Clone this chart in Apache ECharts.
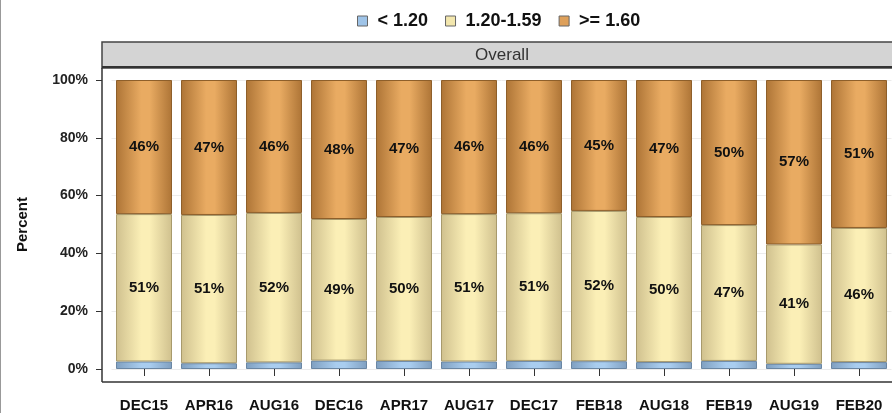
<!DOCTYPE html>
<html><head><meta charset="utf-8">
<script src="https://cdn.jsdelivr.net/npm/echarts@6/dist/echarts.min.js"></script>
<style>html,body{margin:0;padding:0;background:#fff;}#c{width:892px;height:413px;}</style>
</head><body><div id="c"></div>
<script>
const categories = ['DEC15','APR16','AUG16','DEC16','APR17','AUG17','DEC17','FEB18','AUG18','FEB19','AUG19','FEB20'];
const seriesNames = ['< 1.20','1.20-1.59','>= 1.60'];
const low  = [2.6, 2.0, 2.3, 2.9, 2.8, 2.6, 2.8, 2.7, 2.4, 2.8, 1.8, 2.4];
const mid  = [51.0, 51.3, 51.7, 49.0, 49.8, 51.0, 51.1, 52.0, 50.2, 47.0, 41.3, 46.4];
const high = [46.4, 46.7, 46.0, 48.1, 47.4, 46.4, 46.1, 45.3, 47.4, 50.2, 56.9, 51.2];
const yTicks = [0, 20, 40, 60, 80, 100];

function grad(edge, center) {
  return {type:'linear', x:0, y:0, x2:1, y2:0, colorStops:[
    {offset:0, color:edge},{offset:0.45, color:center},{offset:0.6, color:center},{offset:1, color:edge}]};
}
const fills = [grad('#7f9fc0','#a9cdef'), grad('#cfc08e','#fbefb6'), grad('#ad7436','#e9ab62')];
const borders = ['#6a86a3','#a89a6c','#8e5f2a'];
const legendColors = ['#9fc4e8','#f3e7ae','#dea05a'];
const font = 'Liberation Sans, Arial, sans-serif';

const chart = echarts.init(document.getElementById('c'));
const dataSets = [low, mid, high];
chart.setOption({
  animation:false,
  textStyle:{fontFamily:font},
  legend:{top:7, left:352, itemWidth:10, itemHeight:10, itemGap:17,
    textStyle:{fontWeight:'bold', fontSize:18, color:'#111', fontFamily:font, padding:[0,0,0,5]},
    data: seriesNames.map((n,i)=>({name:n, icon:'rect', itemStyle:{color:legendColors[i], borderColor:'#666', borderWidth:1}}))},
  grid:{left:111.5, width:780, top:80, bottom:44},
  xAxis:{type:'category', data:categories, offset:13,
    axisLine:{show:false},
    axisTick:{show:true, alignWithLabel:true, length:7, lineStyle:{color:'#333'}},
    axisLabel:{fontWeight:'bold', fontSize:15, color:'#111', margin:16, interval:0, fontFamily:font}},
  yAxis:{type:'value', min:0, max:100, interval:20, offset:9.5,
    axisLine:{show:false},
    axisTick:{show:true, length:6, lineStyle:{color:'#333'}},
    axisLabel:{formatter:v=>v+'%', fontWeight:'bold', fontSize:14, color:'#222', margin:14, fontFamily:font},
    splitLine:{show:true, lineStyle:{color:'#ececec'}},
    name:'Percent', nameLocation:'middle', nameRotate:90, nameGap:72,
    nameTextStyle:{fontWeight:'bold', fontSize:15, color:'#111', fontFamily:font}},
  series: seriesNames.map((n,i)=>({
    name:n, type:'bar', stack:'all', barWidth:56,
    data:dataSets[i],
    itemStyle:{color:fills[i], borderColor:borders[i], borderWidth:1},
    label:{show:i>0, position:'inside', formatter:p=>Math.round(p.value)+'%',
      fontWeight:'bold', fontSize:15, color:'#111', fontFamily:font}
  })),
  graphic:[
    {type:'line', shape:{x1:0.5,y1:0,x2:0.5,y2:413}, style:{stroke:'#999', lineWidth:1}},
    {type:'rect', shape:{x:102,y:42,width:800,height:26}, style:{fill:'#d4d4d4', stroke:'#444', lineWidth:1.5}},
    {type:'line', shape:{x1:102,y1:67,x2:892,y2:67}, style:{stroke:'#333', lineWidth:2}},
    {type:'text', x:502, y:55, style:{text:'Overall', fill:'#333', fontSize:17, fontFamily:font, align:'center', verticalAlign:'middle'}},
    {type:'line', shape:{x1:102,y1:68,x2:102,y2:382}, style:{stroke:'#333', lineWidth:1.5}},
    {type:'line', shape:{x1:102,y1:382,x2:892,y2:382}, style:{stroke:'#333', lineWidth:1.5}}
  ]
});
</script></body></html>
